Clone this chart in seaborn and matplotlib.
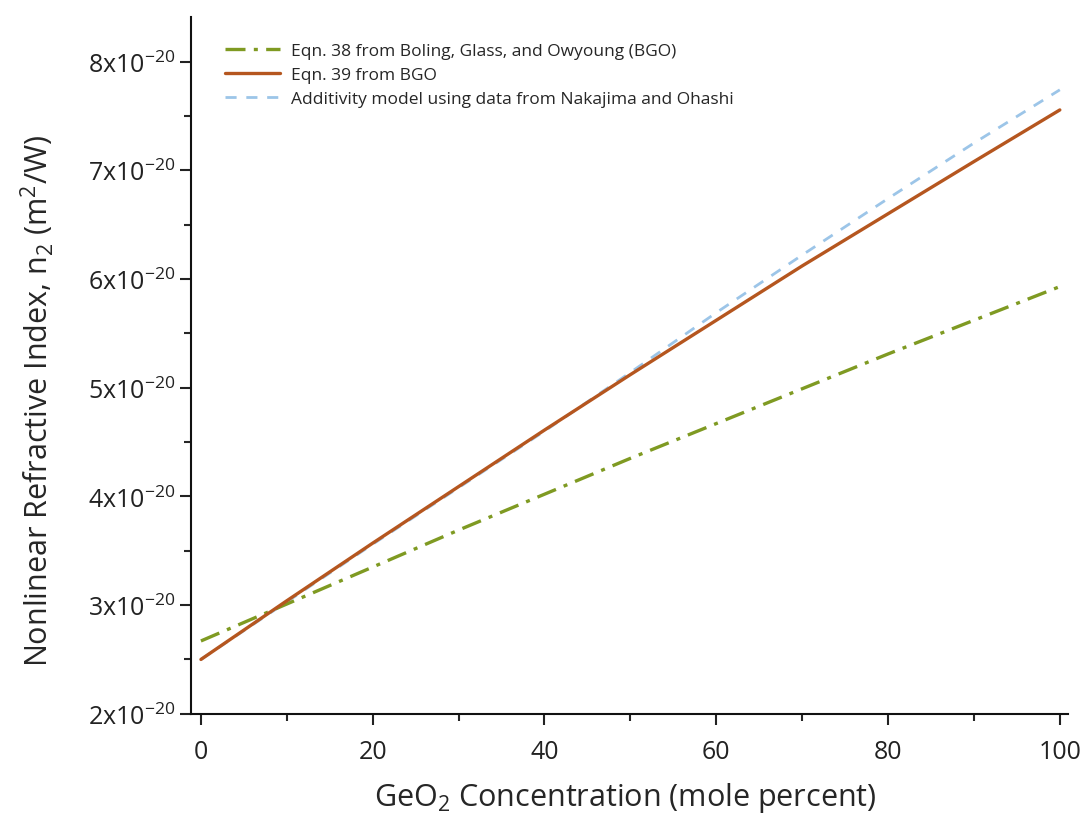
import numpy as np
import pandas as pd
import matplotlib
matplotlib.use("Agg")
import matplotlib.pyplot as plt
import seaborn as sns
from matplotlib.ticker import FixedLocator, FuncFormatter

# ---- data (n2 in units of 1e-20 m^2/W) ----
geo2 = [0, 10, 20, 30, 40, 50, 60, 70, 80, 90, 100]
eqn38 = [2.67, 3.01, 3.35, 3.69, 4.02, 4.35, 4.67, 4.99, 5.31, 5.62, 5.93]
eqn39 = [2.50, 3.04, 3.57, 4.09, 4.61, 5.12, 5.62, 6.12, 6.60, 7.08, 7.555]
additivity = [2.50, 3.03, 3.56, 4.08, 4.60, 5.14, 5.69, 6.22, 6.74, 7.25, 7.74]

x_ticks = [0, 20, 40, 60, 80, 100]
y_ticks = [2, 3, 4, 5, 6, 7, 8]

labels = ["Eqn. 38 from Boling, Glass, and Owyoung (BGO)",
          "Eqn. 39 from BGO",
          "Additivity model using data from Nakajima and Ohashi"]
colors = ["#7f9a22", "#b5561f", "#9cc5e8"]

df = pd.DataFrame({"x": geo2 * 3,
                   "y": np.array(eqn38 + eqn39 + additivity) * 1e-20,
                   "series": [labels[0]] * len(geo2) + [labels[1]] * len(geo2) + [labels[2]] * len(geo2)})

sns.set_style("ticks")
plt.rcParams["font.family"] = ["Open Sans", "DejaVu Sans"]
plt.rcParams["mathtext.default"] = "regular"

fig = plt.figure(figsize=(10.88, 8.37), dpi=100)
ax = fig.add_axes([0.176, 0.146, 0.806, 0.8325])

d = df[df.series == labels[0]]
sns.lineplot(data=d, x="x", y="y", ax=ax, color=colors[0], lw=2.4,
             label=labels[0], zorder=2.5)
ax.lines[-1].set_dashes([6, 2.5, 1.2, 2.5])
d = df[df.series == labels[1]]
sns.lineplot(data=d, x="x", y="y", ax=ax, color=colors[1], lw=2.4, label=labels[1], zorder=3)
d = df[df.series == labels[2]]
sns.lineplot(data=d, x="x", y="y", ax=ax, color=colors[2], lw=2.0, label=labels[2], zorder=2)
ax.lines[-1].set_dashes([4, 3.5])

ax.set_xlim(-1.1, 101)
ax.set_ylim(2e-20, 8.41e-20)
ax.xaxis.set_major_locator(FixedLocator(x_ticks))
ax.xaxis.set_minor_locator(FixedLocator([v + 10 for v in x_ticks[:-1]]))
ax.yaxis.set_major_locator(FixedLocator([v * 1e-20 for v in y_ticks]))
ax.yaxis.set_minor_locator(FixedLocator([(v + 0.5) * 1e-20 for v in y_ticks]))
ax.yaxis.set_major_formatter(FuncFormatter(lambda v, p: r"%dx10$^{-20}$" % round(v * 1e20)))
ax.yaxis.get_offset_text().set_visible(False)
ax.tick_params(which="major", direction="out", length=8, width=1.5, labelsize=18, colors="#222222")
ax.tick_params(which="minor", direction="out", length=5, width=1.5)
ax.tick_params(axis="x", pad=10)
for s in ["top", "right"]:
    ax.spines[s].set_visible(False)
for s in ["left", "bottom"]:
    ax.spines[s].set_linewidth(1.5)
    ax.spines[s].set_color("#111111")

ax.set_xlabel("GeO$_2$ Concentration (mole percent)", fontsize=22)
ax.set_ylabel("Nonlinear Refractive Index, n$_2$ (m$^2$/W)", fontsize=22)
ax.xaxis.set_label_coords(0.495, -0.095)
ax.yaxis.set_label_coords(-0.155, 0.45)

leg = ax.legend(loc="upper left", bbox_to_anchor=(0.02, 0.985), frameon=False,
                fontsize=12.5, handlelength=3.2, handletextpad=0.6, labelspacing=0.45)

fig.savefig("out.png", dpi=100)
